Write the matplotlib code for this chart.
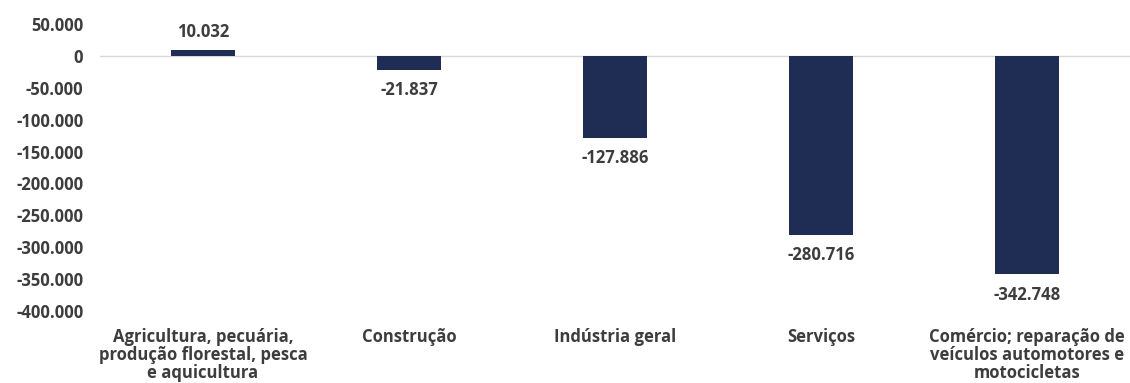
import matplotlib
matplotlib.use("Agg")
import matplotlib.pyplot as plt
from matplotlib.ticker import FuncFormatter

categories = [
    "Agricultura, pecuária,\nprodução florestal, pesca\ne aquicultura",
    "Construção",
    "Indústria geral",
    "Serviços",
    "Comércio; reparação de\nveículos automotores e\nmotocicletas",
]
values = [10032, -21837, -127886, -280716, -342748]
yticks = [50000, 0, -50000, -100000, -150000, -200000, -250000, -300000, -350000, -400000]

bar_color = "#1f2d54"
text_color = "#3d3d3d"
plt.rcParams['font.family'] = ['Open Sans', 'DejaVu Sans']

fig = plt.figure(figsize=(11.3, 3.83), dpi=100)
ax = fig.add_axes([0.0885, 0.188, 0.9115, 0.749])
x = list(range(len(values)))
bars = ax.bar(x, values, width=0.315, color=bar_color, zorder=3)
ax.axhline(0, color="#d9d9d9", lw=1, zorder=2)
ax.set_xlim(-0.5, len(values) - 0.5)
ax.set_ylim(-400000, 50000)
ax.set_yticks(yticks)

def fmt(v, pos=None):
    s = f"{abs(int(round(v))):,}".replace(",", ".")
    return ("-" if v < 0 else "") + s

ax.yaxis.set_major_formatter(FuncFormatter(fmt))
ax.set_xticks(x)
ax.set_xticklabels(categories, linespacing=1.0)
for s in ax.spines.values():
    s.set_visible(False)
ax.tick_params(axis='both', length=0, labelsize=12, labelcolor=text_color)
ax.tick_params(axis='x', pad=12)
ax.tick_params(axis='y', pad=12)
for lbl in ax.get_xticklabels() + ax.get_yticklabels():
    lbl.set_fontweight('bold')

for xi, v in zip(x, values):
    if v >= 0:
        ax.annotate(fmt(v), (xi, v), xytext=(0, 6), textcoords='offset points',
                    ha='center', va='bottom', fontsize=12, fontweight='bold', color=text_color)
    else:
        ax.annotate(fmt(v), (xi, v), xytext=(0, -8), textcoords='offset points',
                    ha='center', va='top', fontsize=12, fontweight='bold', color=text_color)

fig.savefig("out.png", dpi=100)
